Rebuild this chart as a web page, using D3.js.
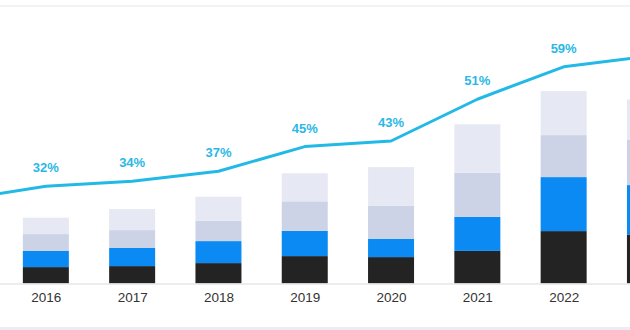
<!DOCTYPE html>
<html>
<head>
<meta charset="utf-8">
<script src="https://cdn.jsdelivr.net/npm/d3@7"></script>
<style>
  html, body { margin: 0; padding: 0; background: #ffffff; }
  svg { display: block; }
</style>
</head>
<body>
<svg id="chart" width="630" height="330"></svg>
<script>
// ---- data ----
const years = ["2015", "2016", "2017", "2018", "2019", "2020", "2021", "2022", "2023"];
// year labels that fall inside the visible frame
const tickLabels = ["2016", "2017", "2018", "2019", "2020", "2021", "2022"];
// stacked segments, bottom to top
const seriesBlack = [null, 8.2, 8.7, 10.2, 13.7, 13.2, 16.3, 26.2, 24.5];
const seriesBlue  = [null, 8.2, 9.2, 11.0, 12.6, 9.2, 17.0, 27.0, 24.7];
const seriesMid   = [null, 8.3, 8.8, 10.2, 14.8, 16.5, 22.0, 21.0, 22.8];
const seriesLight = [null, 8.2, 10.5, 12.0, 14.0, 19.3, 24.3, 22.0, 20.0];
// line series (share, own axis) and its labels
const lineValues = [29.9, 34.7, 36.5, 40.1, 48.9, 50.9, 65.8, 77.4, 81.2];
const lineLabels = [null, "32%", "34%", "37%", "45%", "43%", "51%", "59%", null];

const seriesNames = ["black", "blue", "mid", "light"];
const seriesColors = ["#232323", "#0a8af2", "#cdd3e7", "#e6e8f3"];

// ---- layout ----
const W = 630, H = 330;
const baseY = 283.5;
const svg = d3.select("#chart");

svg.append("rect").attr("x", 0).attr("y", 0).attr("width", W).attr("height", H).attr("fill", "#ffffff");
svg.append("rect").attr("x", 0).attr("y", 5).attr("width", W).attr("height", 2).attr("fill", "#f3f3f5");
svg.append("rect").attr("x", 0).attr("y", 327).attr("width", W).attr("height", 3).attr("fill", "#ececf1");

const step = 86.3;
const x = d3.scalePoint().domain(years).range([45.85 - step, 45.85 + step * (years.length - 2)]);
const y = d3.scaleLinear().domain([0, 140]).range([baseY, baseY - 280]);
const yLine = d3.scaleLinear().domain([0, 100]).range([baseY, baseY - 280]);
const barW = 46;

// stacked bars
const rows = years.map((yr, i) => ({
  year: yr,
  black: seriesBlack[i], blue: seriesBlue[i], mid: seriesMid[i], light: seriesLight[i]
})).filter(d => d.black != null);

const stacked = d3.stack().keys(seriesNames)(rows);

svg.append("g").selectAll("g")
  .data(stacked)
  .join("g")
  .attr("fill", (d, i) => seriesColors[i])
  .selectAll("rect")
  .data(d => d)
  .join("rect")
  .attr("x", d => x(d.data.year) - barW / 2)
  .attr("y", d => y(d[1]))
  .attr("width", barW)
  .attr("height", d => y(d[0]) - y(d[1]));

// x axis
const axis = svg.append("g")
  .attr("transform", `translate(0,${baseY})`)
  .call(d3.axisBottom(x).tickValues(tickLabels).tickSize(0).tickSizeOuter(0).tickPadding(9));
axis.select(".domain").attr("stroke", "#e6e6ea").attr("stroke-width", 1.5);
axis.selectAll("text")
  .attr("fill", "#333333")
  .attr("font-size", 13.5)
  .attr("font-family", "'Helvetica Neue', Helvetica, Arial, 'Liberation Sans', sans-serif");

// line
const lineData = years.map((yr, i) => ({ year: yr, v: lineValues[i], label: lineLabels[i] }));
const line = d3.line().x(d => x(d.year)).y(d => yLine(d.v));
svg.append("path")
  .datum(lineData)
  .attr("fill", "none")
  .attr("stroke", "#22b9e6")
  .attr("stroke-width", 3)
  .attr("stroke-linejoin", "round")
  .attr("d", line);

svg.append("g").selectAll("text")
  .data(lineData.filter(d => d.label))
  .join("text")
  .attr("x", d => x(d.year))
  .attr("y", d => yLine(d.v) - 14)
  .attr("text-anchor", "middle")
  .attr("fill", "#2bb8e6")
  .attr("font-size", 13)
  .attr("font-weight", "bold")
  .attr("font-family", "'Helvetica Neue', Helvetica, Arial, 'Liberation Sans', sans-serif")
  .text(d => d.label);
</script>
</body>
</html>
